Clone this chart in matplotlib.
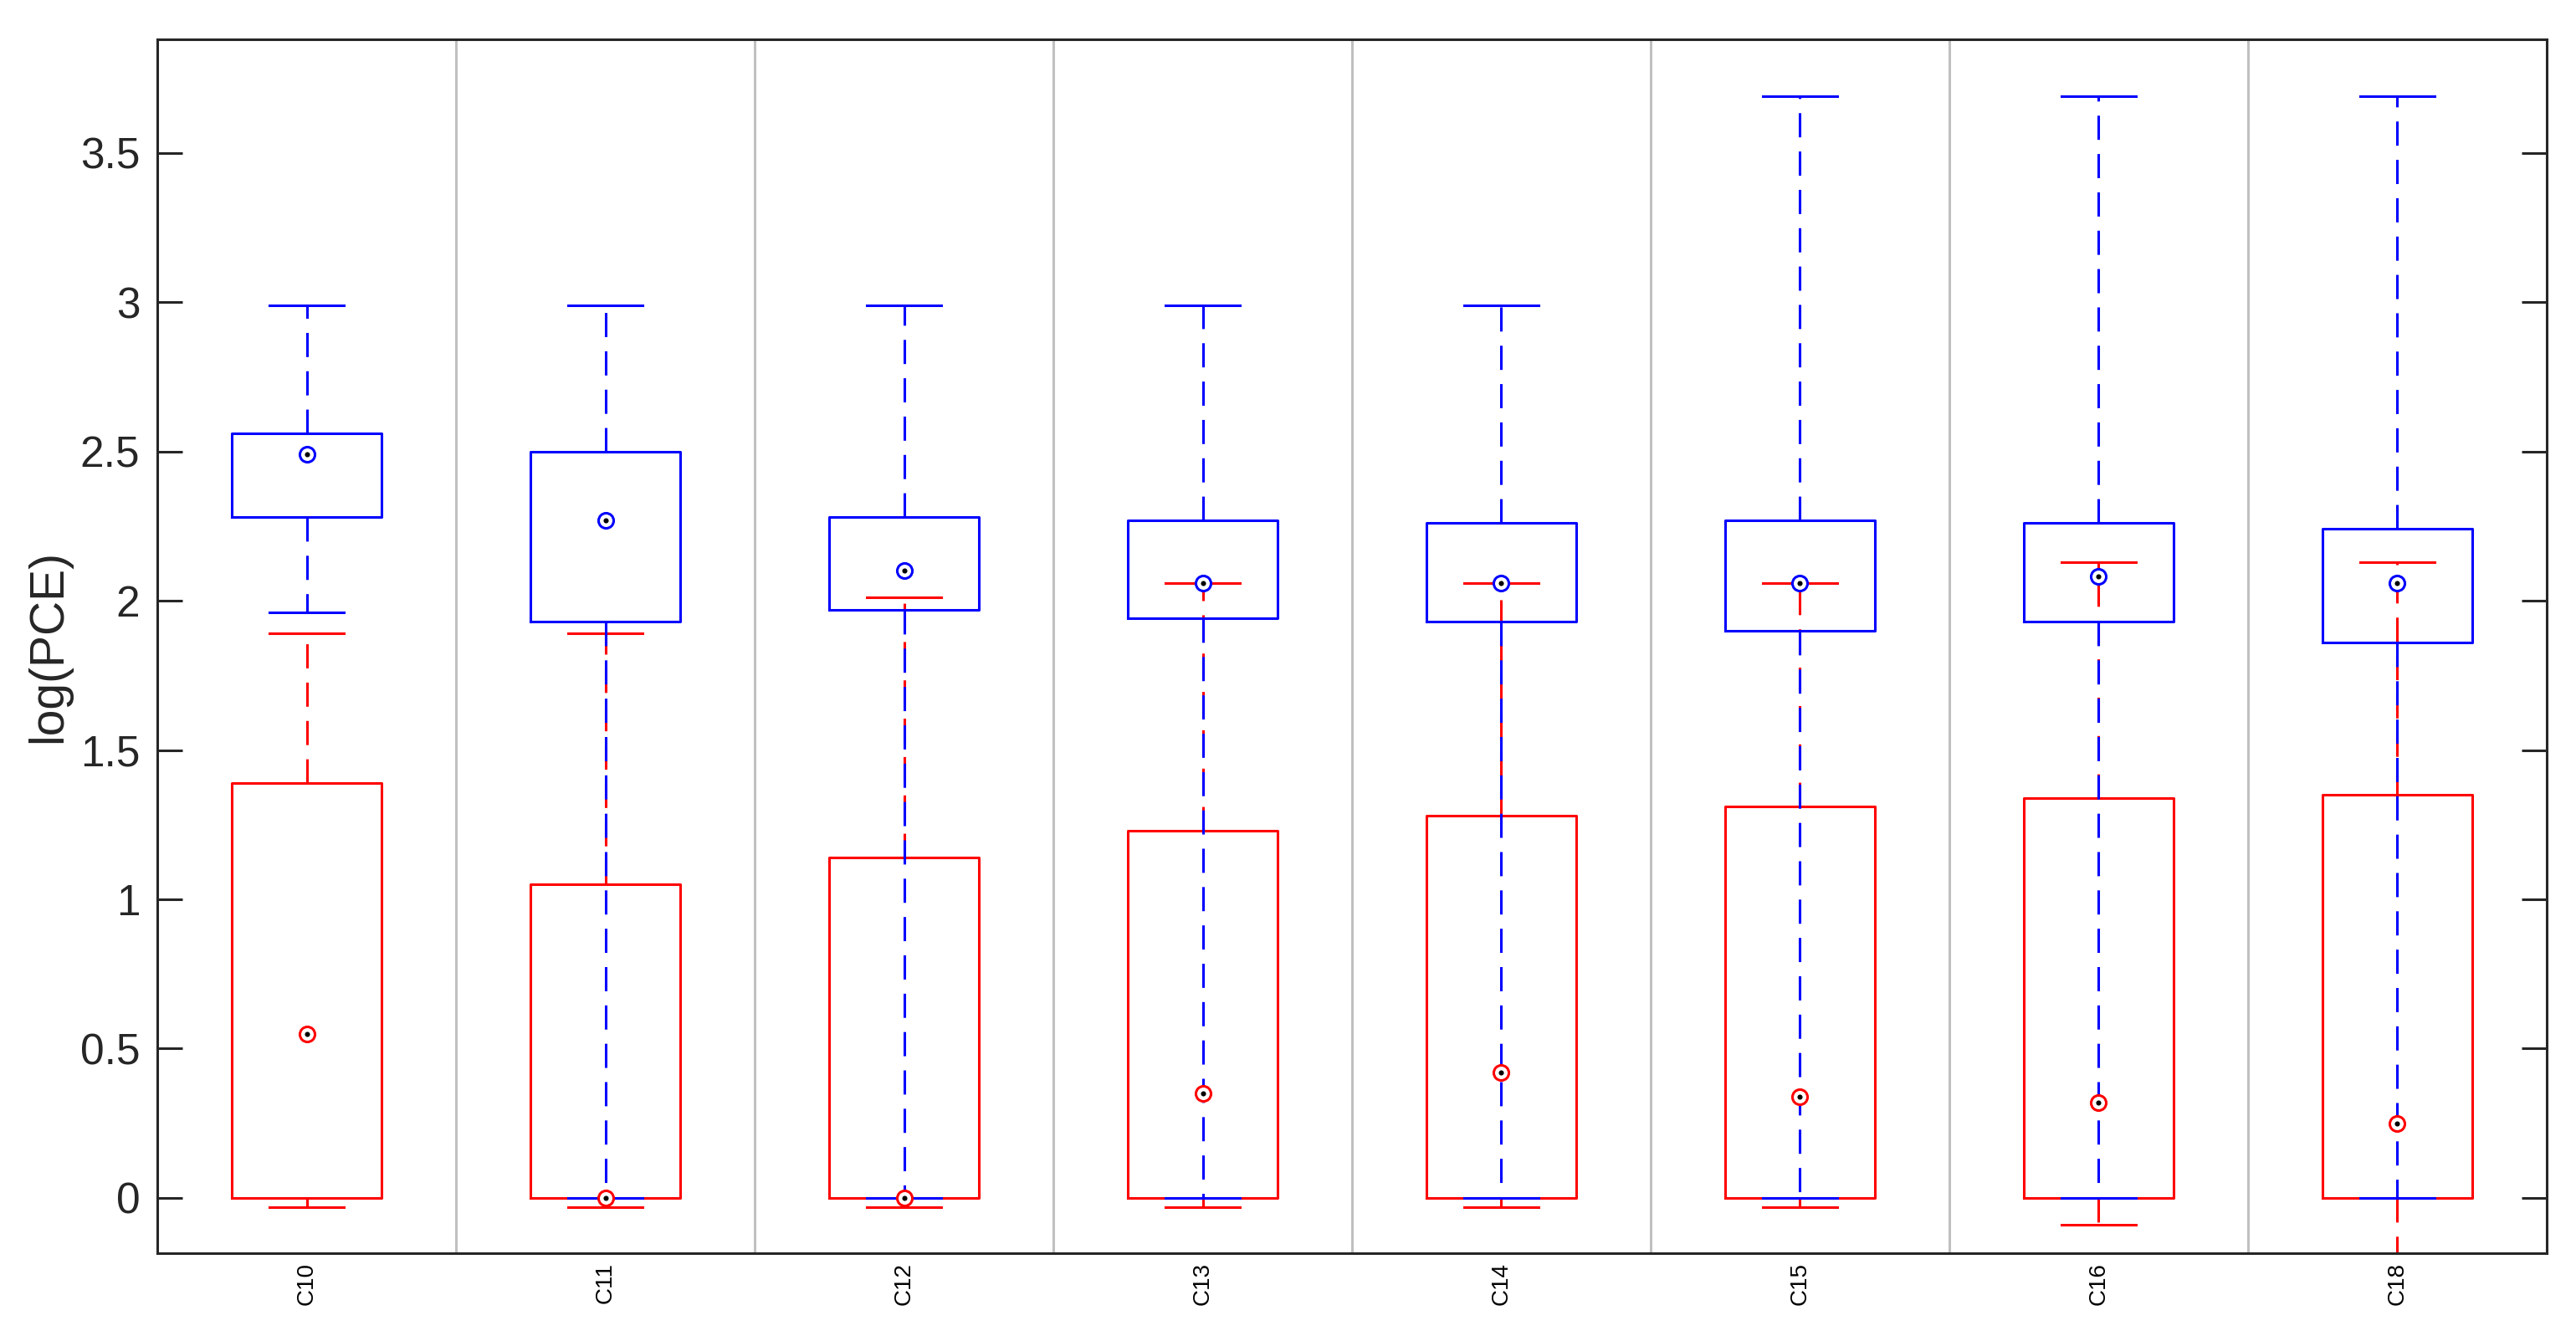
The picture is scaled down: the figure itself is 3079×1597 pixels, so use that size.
import matplotlib
matplotlib.use("Agg")
import matplotlib.pyplot as plt
from matplotlib.ticker import FormatStrFormatter

plt.rcParams['font.family'] = ['Liberation Sans', 'DejaVu Sans']
plt.rcParams['lines.scale_dashes'] = False

# categories
labels = ['C10', 'C11', 'C12', 'C13', 'C14', 'C15', 'C16', 'C18']

# blue series (box stats)
blue_whislo = [1.96, 0.0, 0.0, 0.0, 0.0, 0.0, 0.0, 0.0]
blue_q1 = [2.28, 1.93, 1.97, 1.94, 1.93, 1.90, 1.93, 1.86]
blue_med = [2.49, 2.27, 2.10, 2.06, 2.06, 2.06, 2.08, 2.06]
blue_q3 = [2.56, 2.50, 2.28, 2.27, 2.26, 2.27, 2.26, 2.24]
blue_whishi = [2.99, 2.99, 2.99, 2.99, 2.99, 3.69, 3.69, 3.69]

# red series (box stats)
red_whislo = [-0.03, -0.03, -0.03, -0.03, -0.03, -0.03, -0.09, -0.30]
red_q1 = [0.0, 0.0, 0.0, 0.0, 0.0, 0.0, 0.0, 0.0]
red_med = [0.55, 0.0, 0.0, 0.35, 0.42, 0.34, 0.32, 0.25]
red_q3 = [1.39, 1.05, 1.14, 1.23, 1.28, 1.31, 1.34, 1.35]
red_whishi = [1.89, 1.89, 2.01, 2.06, 2.06, 2.06, 2.13, 2.13]

pos = list(range(1, len(labels) + 1))


def stats(lo, q1, med, q3, hi):
    return [dict(whislo=a, q1=b, med=c, q3=d, whishi=e, fliers=[])
            for a, b, c, d, e in zip(lo, q1, med, q3, hi)]


def draw(ax, st, color, z):
    lw = 1.1
    ax.bxp(st, positions=pos, widths=0.5, showfliers=False,
           boxprops=dict(color=color, linewidth=lw),
           whiskerprops=dict(color=color, linewidth=lw, linestyle=(0, (10.4, 6.1))),
           capprops=dict(color=color, linewidth=lw),
           medianprops=dict(linestyle='none'),
           zorder=z)
    meds = [s['med'] for s in st]
    ax.plot(pos, meds, linestyle='none', marker='o', markersize=6.5,
            markerfacecolor='white', markeredgecolor=color, markeredgewidth=1.1,
            zorder=z + 2)
    ax.plot(pos, meds, linestyle='none', marker='o', markersize=2.2,
            markerfacecolor='black', markeredgecolor='black', markeredgewidth=0,
            zorder=z + 2.5)


fig = plt.figure(figsize=(15.395, 7.985), dpi=200)
ax = fig.add_axes([0.0611, 0.062, 0.9275, 0.9086])

for x in range(1, len(labels)):
    ax.axvline(x + 0.5, color='#c0c0c0', linewidth=1.1, zorder=1)

draw(ax, stats(red_whislo, red_q1, red_med, red_q3, red_whishi), 'red', 2)
draw(ax, stats(blue_whislo, blue_q1, blue_med, blue_q3, blue_whishi), 'blue', 3)

ax.set_xlim(0.5, len(labels) + 0.5)
ax.set_ylim(-0.185, 3.88)
ax.set_yticks([0, 0.5, 1, 1.5, 2, 2.5, 3, 3.5])
ax.yaxis.set_major_formatter(FormatStrFormatter('%g'))
ax.set_xticks(pos)
ax.set_xticklabels(labels, rotation=90, fontsize=10, color='black')

for sp in ax.spines.values():
    sp.set_color('#262626')
    sp.set_linewidth(1.1)

ax.tick_params(axis='y', direction='in', length=10.8, width=1.1, color='#262626',
               labelsize=18.5, labelcolor='#262626', pad=7.5, right=True)
ax.tick_params(axis='x', length=0, pad=4)

ax.set_ylabel('log(PCE)', fontsize=20.5, color='#262626')
ax.yaxis.set_label_coords(-0.036, 0.5)

fig.savefig('out.png', dpi=200)
